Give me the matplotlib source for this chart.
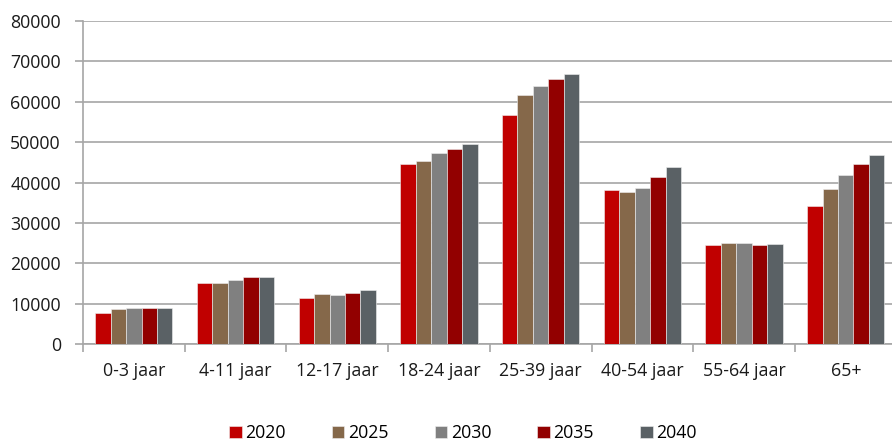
import matplotlib
matplotlib.use("Agg")
import matplotlib.pyplot as plt
import numpy as np

categories = ["0-3 jaar", "4-11 jaar", "12-17 jaar", "18-24 jaar",
              "25-39 jaar", "40-54 jaar", "55-64 jaar", "65+"]
years = ["2020", "2025", "2030", "2035", "2040"]

v2020 = [7750, 15180, 11300, 44700, 56740, 38020, 24580, 34140]
v2025 = [8660, 15010, 12290, 45360, 61690, 37690, 24990, 38270]
v2030 = [8820, 15920, 12200, 47420, 63920, 38760, 25070, 41900]
v2035 = [8820, 16490, 12540, 48330, 65560, 41320, 24490, 44700]
v2040 = [8990, 16660, 13280, 49480, 66880, 43790, 24740, 46760]
series = [v2020, v2025, v2030, v2035, v2040]

colors = ["#C00000", "#85684A", "#808080", "#920000", "#5A6165"]

plt.rcParams["font.family"] = ["Open Sans", "DejaVu Sans"]
FS = 12.8

fig = plt.figure(figsize=(8.92, 4.42), dpi=100)
ax = fig.add_axes([83 / 892, 98 / 442, 813.6 / 892, 323 / 442])

x = np.arange(len(categories))
w = 0.152
for i, (vals, c, yr) in enumerate(zip(series, colors, years)):
    ax.bar(x + (i - 2) * w, vals, width=w, color=c, label=yr,
           edgecolor="#f0f0f0", linewidth=0.4, zorder=3)

ax.set_xlim(-0.5, len(categories) - 0.5)
ax.set_ylim(0, 80000)
ax.set_yticks(np.arange(0, 80001, 10000))
ax.yaxis.grid(True, color="#a6a6a6", lw=1.2, zorder=0)
ax.set_axisbelow(True)

ax.set_xticks(x)
ax.set_xticklabels(categories)
ax.set_xticks(np.arange(-0.5, len(categories), 1.0), minor=True)
ax.tick_params(axis="x", which="major", length=0, pad=13, labelsize=FS, labelcolor="#1a1a1a")
ax.tick_params(axis="x", which="minor", length=6, color="#a6a6a6", width=1.2)
ax.tick_params(axis="y", length=6, color="#a6a6a6", width=1.2, pad=10,
               labelsize=FS, labelcolor="#1a1a1a")

for s in ["top", "right"]:
    ax.spines[s].set_visible(False)
for s in ["left", "bottom"]:
    ax.spines[s].set_color("#a6a6a6")
    ax.spines[s].set_linewidth(1.2)

fig.legend(loc="lower center", bbox_to_anchor=(0.519, -0.037), ncol=5, frameon=False,
           fontsize=FS, handlelength=0.7, handleheight=0.7, handletextpad=0.2,
           columnspacing=2.6)

fig.savefig("out.png", dpi=100)
